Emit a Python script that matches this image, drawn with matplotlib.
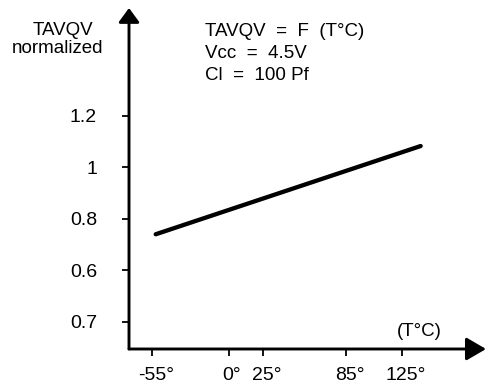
import matplotlib
matplotlib.use('Agg')
import matplotlib.pyplot as plt
from matplotlib.transforms import ScaledTranslation

# ---- data ----
temps = [-52.5, 138.5]
tavqv = [0.74, 1.082]
xticks = [-55, 0, 25, 85, 125]
xticklabels = ['-55°', '0°', '25°', '85°', '125°']
yticks = [0.4, 0.6, 0.8, 1.0, 1.2]
yticklabels = ['0.7', '0.6', '0.8', '1', '1.2']

plt.rcParams['font.family'] = ['Liberation Sans', 'DejaVu Sans']

W, H = 487, 391
fig = plt.figure(figsize=(W / 100, H / 100), dpi=100)
ax = fig.add_axes([129 / W, (H - 349) / H, (486 - 129) / W, (349 - 8) / H])

ax.plot(temps, tavqv, color='black', lw=3.1, solid_capstyle='round')

ax.set_xlim(-71.75, 185.6)
ax.set_ylim(0.2953, 1.617)

for s in ax.spines.values():
    s.set_visible(False)

# axes with arrows
ax.annotate('', xy=(0, 1), xytext=(0, 0), xycoords='axes fraction',
            arrowprops=dict(arrowstyle='-|>,head_length=8.6,head_width=6.3',
                            mutation_scale=1, lw=2.1, color='black',
                            shrinkA=0, shrinkB=0), annotation_clip=False)
ax.annotate('', xy=(1, 0), xytext=(0, 0), xycoords='axes fraction',
            arrowprops=dict(arrowstyle='-|>,head_length=12,head_width=7',
                            mutation_scale=1, lw=2.1, color='black',
                            shrinkA=0, shrinkB=0), annotation_clip=False)

ax.set_xticks(xticks)
ax.set_xticklabels(xticklabels)
ax.set_yticks(yticks)
ax.set_yticklabels(yticklabels)
ax.tick_params(axis='y', direction='out', length=5, width=1.3, pad=18, labelsize=14, colors='black')
ax.tick_params(axis='x', direction='out', length=5, width=1.3, pad=8, labelsize=14, colors='black')
off = ScaledTranslation(2.5 / 72, 0, fig.dpi_scale_trans)
for lbl in ax.get_xticklabels():
    lbl.set_transform(lbl.get_transform() + off)

def ftext(x, y, s, **kw):
    fig.text(x / W, 1 - y / H, s, fontsize=13.5, va='baseline', **kw)

ftext(63, 35, 'TAVQV', ha='center')
ftext(58, 53, 'normalized', ha='center')
ftext(205, 36, 'TAVQV  =  F  (T°C)', ha='left')
ftext(205, 58, 'Vcc  =  4.5V', ha='left')
ftext(205, 80, 'Cl  =  100 Pf', ha='left')
ftext(419, 336, '(T°C)', ha='center')

fig.savefig('out.png', dpi=100, facecolor='white')
